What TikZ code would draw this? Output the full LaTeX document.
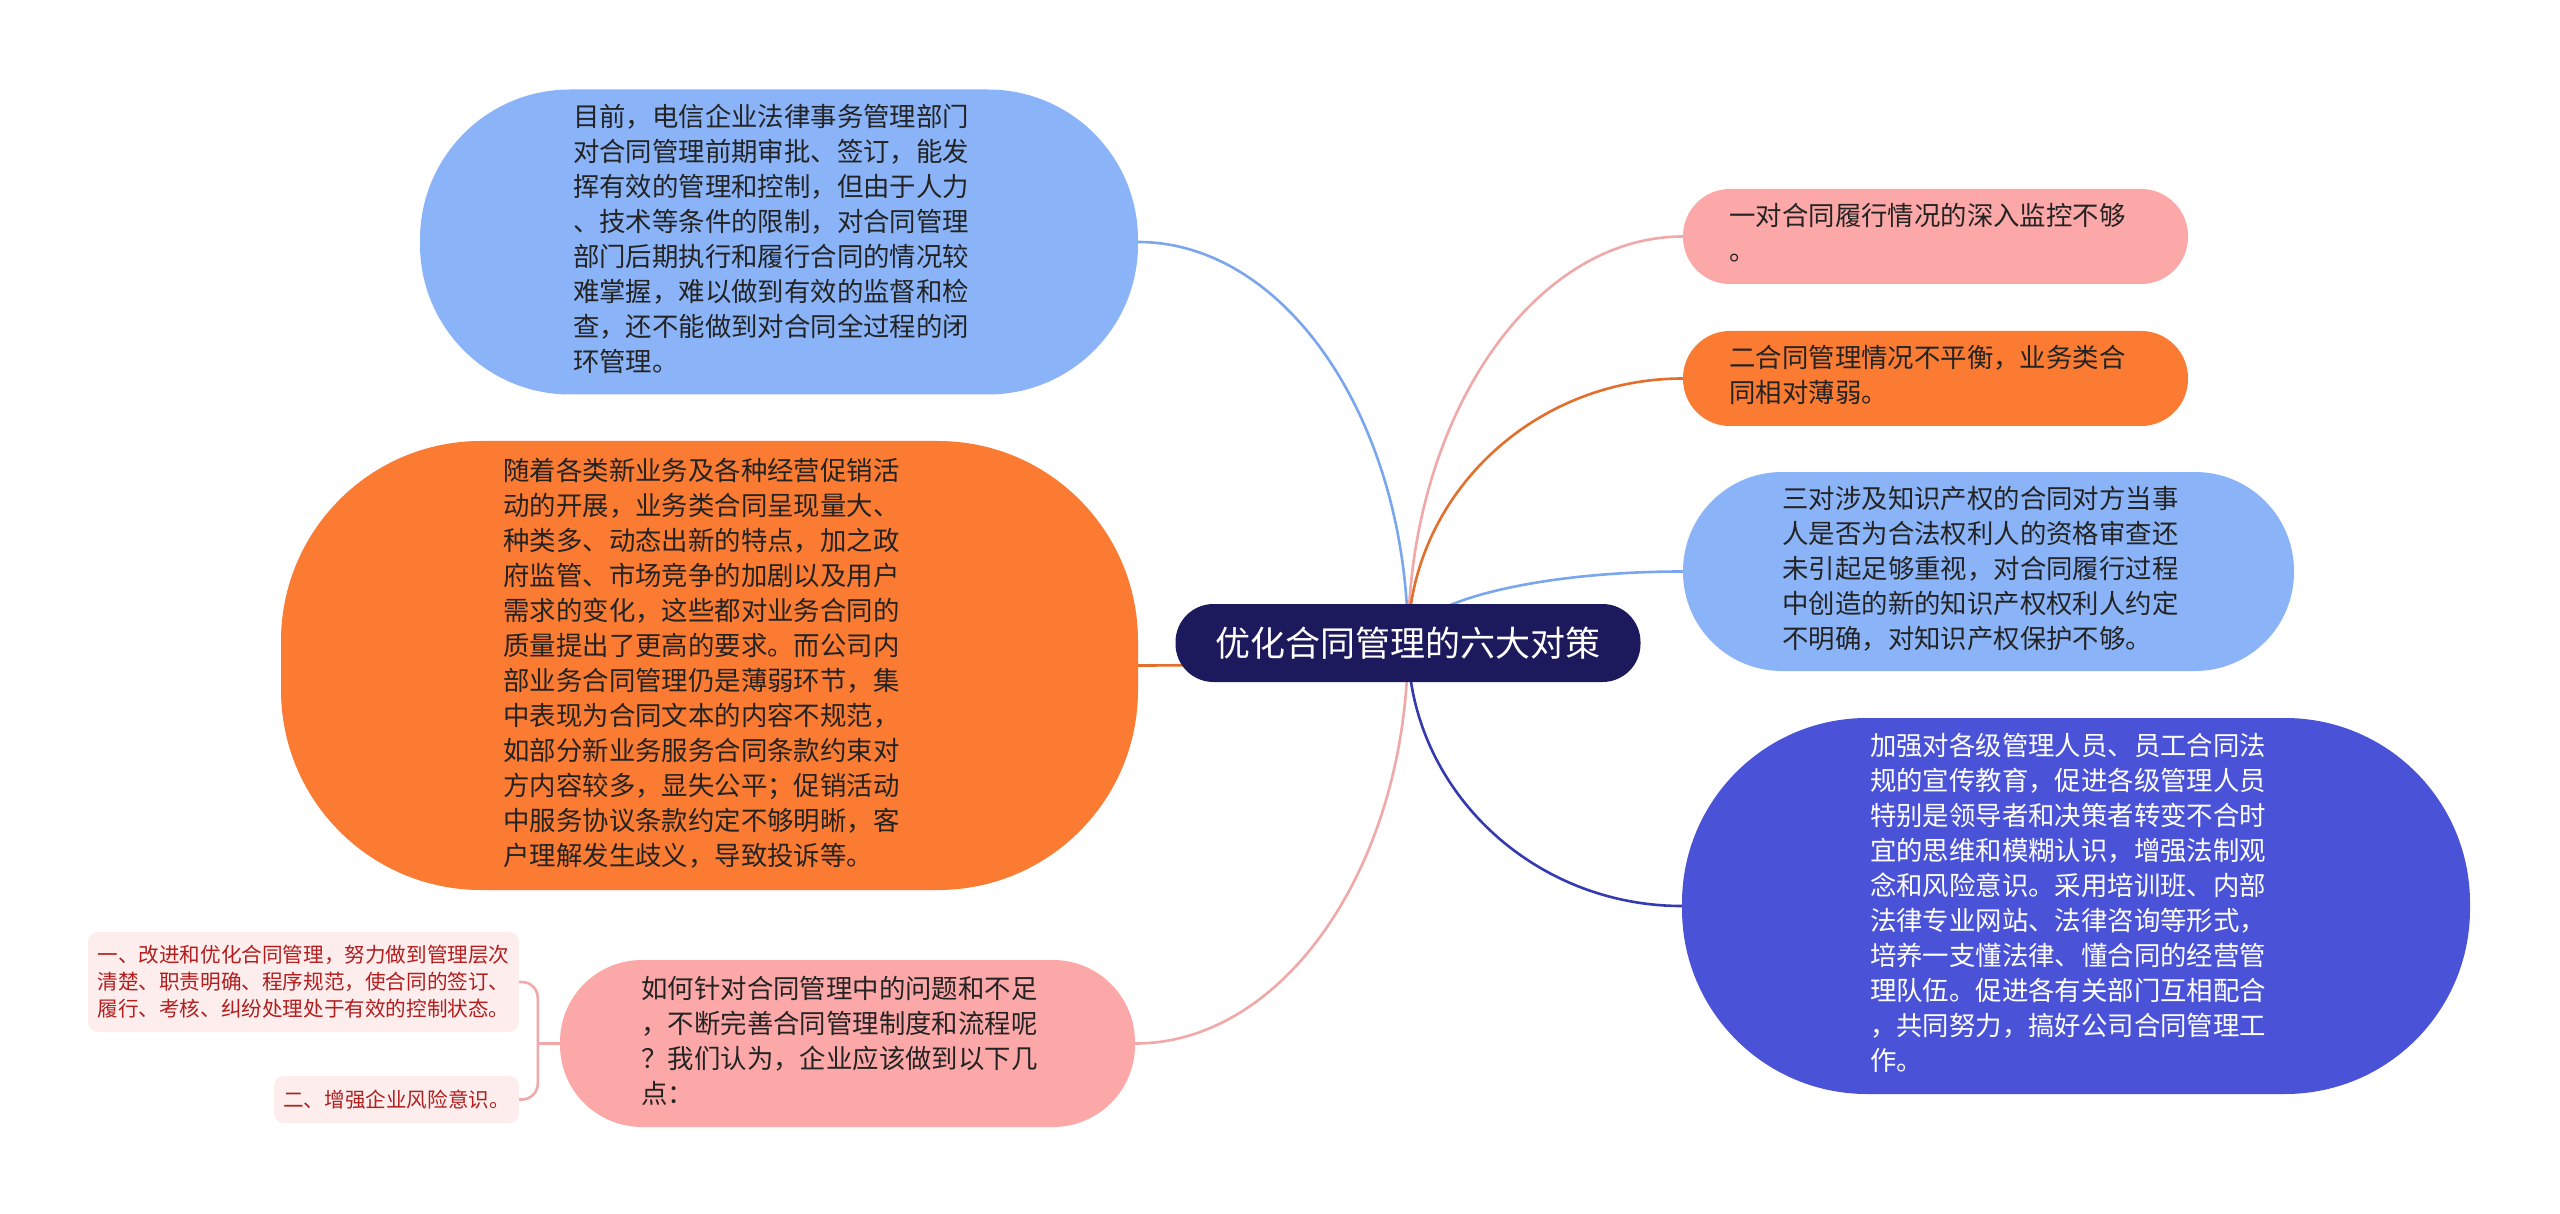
\documentclass[tikz,border=0pt]{standalone}
\usepackage{fontspec}
\newfontfamily\cjk{Noto Sans CJK SC}
\usetikzlibrary{calc}
\definecolor{rootc}{RGB}{28,26,92}
\definecolor{blueC}{RGB}{139,180,248}
\definecolor{blueL}{RGB}{122,166,238}
\definecolor{orangeC}{RGB}{250,123,49}
\definecolor{orangeL}{RGB}{226,112,44}
\definecolor{pinkC}{RGB}{253,168,168}
\definecolor{pinkL}{RGB}{240,168,168}
\definecolor{indigoC}{RGB}{74,82,216}
\definecolor{indigoL}{RGB}{52,58,176}
\definecolor{subfill}{RGB}{253,237,237}
\definecolor{subtext}{RGB}{178,30,30}
\definecolor{txtdark}{RGB}{35,35,35}
\pgfdeclarelayer{bg}
\pgfsetlayers{bg,main}
\newcommand\mmlink[2]{\draw[link,#1] (root.center) .. controls ($(root.center)!0.55!(root.center|-#2)$) and ($(#2)!0.55!(root.center|-#2)$) .. (#2);}
\newcommand\bubtext[1]{\begin{tabular}{@{}l@{\hspace{16pt}}}#1\end{tabular}}
\begin{document}
\begin{tikzpicture}[x=1pt,y=-1pt,
  bubble/.style={rounded corners=#1, inner sep=0pt, align=left, text=txtdark, font=\cjk\fontsize{26.4pt}{35pt}\selectfont},
  subbox/.style={rounded corners=10pt, inner sep=0pt, align=left, fill=subfill, text=subtext, font=\cjk\fontsize{20.6pt}{27pt}\selectfont},
  link/.style={line width=2.6pt},
  sublink/.style={line width=2.6pt, draw=pinkL},
]
\begin{pgfonlayer}{bg}
\path[use as bounding box, fill=white] (0,0) rectangle (2560,1214);
\end{pgfonlayer}

\node[bubble=38pt, fill=rootc, text=white, font=\cjk\fontsize{35pt}{42pt}\selectfont, minimum width=465pt, minimum height=78pt] (root) at (1408,643) {优化合同管理的六大对策};

\node[bubble=150pt, fill=blueC, minimum width=718pt, minimum height=305pt] (a) at (779,242) {\bubtext{目前，电信企业法律事务管理部门\\对合同管理前期审批、签订，能发\\挥有效的管理和控制，但由于人力\\、技术等条件的限制，对合同管理\\部门后期执行和履行合同的情况较\\难掌握，难以做到有效的监督和检\\查，还不能做到对合同全过程的闭\\环管理。}};

\node[bubble=200pt, fill=orangeC, minimum width=857pt, minimum height=449pt] (b) at (709.5,665.5) {\bubtext{随着各类新业务及各种经营促销活\\动的开展，业务类合同呈现量大、\\种类多、动态出新的特点，加之政\\府监管、市场竞争的加剧以及用户\\需求的变化，这些都对业务合同的\\质量提出了更高的要求。而公司内\\部业务合同管理仍是薄弱环节，集\\中表现为合同文本的内容不规范，\\如部分新业务服务合同条款约束对\\方内容较多，显失公平；促销活动\\中服务协议条款约定不够明晰，客\\户理解发生歧义，导致投诉等。}};

\node[bubble=82pt, fill=pinkC, minimum width=575pt, minimum height=167pt] (c) at (847.5,1043.5) {\bubtext{如何针对合同管理中的问题和不足\\，不断完善合同管理制度和流程呢\\？我们认为，企业应该做到以下几\\点：}};

\node[subbox, minimum width=431pt, minimum height=100pt] (c1) at (303.5,982) {一、改进和优化合同管理，努力做到管理层次\\清楚、职责明确、程序规范，使合同的签订、\\履行、考核、纠纷处理处于有效的控制状态。};
\node[subbox, minimum width=245pt, minimum height=47pt] (c2) at (396.5,1099.5) {二、增强企业风险意识。};

\node[bubble=47pt, fill=pinkC, minimum width=505pt, minimum height=95pt] (r1) at (1935.5,236.5) {\bubtext{一对合同履行情况的深入监控不够\\。}};
\node[bubble=47pt, fill=orangeC, minimum width=505pt, minimum height=95pt] (r2) at (1935.5,378.5) {\bubtext{二合同管理情况不平衡，业务类合\\同相对薄弱。}};
\node[bubble=99pt, fill=blueC, minimum width=611pt, minimum height=199pt] (r3) at (1988.5,571.5) {\bubtext{三对涉及知识产权的合同对方当事\\人是否为合法权利人的资格审查还\\未引起足够重视，对合同履行过程\\中创造的新的知识产权权利人约定\\不明确，对知识产权保护不够。}};
\node[bubble=185pt, fill=indigoC, text=white, minimum width=788pt, minimum height=376pt] (r4) at (2076,906) {\bubtext{加强对各级管理人员、员工合同法\\规的宣传教育，促进各级管理人员\\特别是领导者和决策者转变不合时\\宜的思维和模糊认识，增强法制观\\念和风险意识。采用培训班、内部\\法律专业网站、法律咨询等形式，\\培养一支懂法律、懂合同的经营管\\理队伍。促进各有关部门互相配合\\，共同努力，搞好公司合同管理工\\作。}};

\begin{pgfonlayer}{bg}
\mmlink{blueL}{a.east}
\mmlink{orangeL}{b.east}
\mmlink{pinkL}{c.east}
\mmlink{pinkL}{r1.west}
\mmlink{orangeL}{r2.west}
\mmlink{blueL}{r3.west}
\mmlink{indigoL}{r4.west}
\coordinate (cj) at ($(c.west)+(-22,0)$);
\draw[sublink] (c.west) -- (cj);
\draw[sublink, rounded corners=16pt] (c1.east) -| (cj) |- (c2.east);
\end{pgfonlayer}
\end{tikzpicture}
\end{document}
